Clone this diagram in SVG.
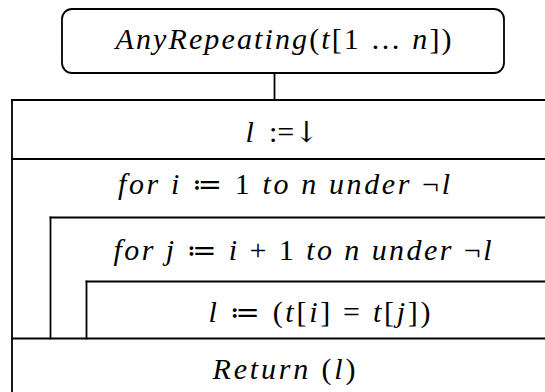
<svg xmlns="http://www.w3.org/2000/svg" width="545" height="392" viewBox="0 0 545 392">
<style>
.ln{stroke:#000;stroke-width:1.8;fill:none;stroke-linecap:square}
.t{font-family:"Liberation Serif","DejaVu Serif",serif;font-size:30px;fill:#000;text-anchor:middle}
.i{font-style:italic}
.u{font-style:normal}
.s{font-family:"DejaVu Serif",serif;font-style:normal;font-size:29px}
</style>
<rect width="545" height="392" fill="#fff"/>
<g id="title">
<rect x="62" y="9" width="442" height="64" rx="10" class="ln"/>
<text class="t" x="283.5" y="49" textLength="336" lengthAdjust="spacing"><tspan class="i">AnyRepeating</tspan><tspan class="u">(</tspan><tspan class="i">t</tspan><tspan class="u">[1 … </tspan><tspan class="i">n</tspan><tspan class="u">])</tspan></text>
</g>
<g id="connectors">
<line x1="274.5" y1="73" x2="274.5" y2="100" class="ln"/>
</g>
<g id="frame">
<line x1="12" y1="100" x2="545" y2="100" class="ln"/>
<line x1="12" y1="100" x2="12" y2="392" class="ln"/>
</g>
<g id="assign">
<text class="t" x="282" y="142"><tspan class="i">l</tspan><tspan class="u">&#160;&#160;:=</tspan><tspan class="s">↓</tspan></text>
<line x1="12" y1="159" x2="545" y2="159" class="ln"/>
</g>
<g id="loop-i">
<text class="t" x="284" y="194" textLength="332" lengthAdjust="spacing"><tspan class="i">for i</tspan><tspan class="u"> </tspan><tspan class="s">≔</tspan><tspan class="u"> 1 </tspan><tspan class="i">to n under</tspan><tspan class="u"> ¬</tspan><tspan class="i">l</tspan></text>
<line x1="50.5" y1="217.5" x2="545" y2="217.5" class="ln"/>
<line x1="50.5" y1="217.5" x2="50.5" y2="338.5" class="ln"/>
</g>
<g id="loop-j">
<text class="t" x="302.5" y="260" textLength="378" lengthAdjust="spacing"><tspan class="i">for j</tspan><tspan class="u"> </tspan><tspan class="s">≔</tspan><tspan class="u"> </tspan><tspan class="i">i</tspan><tspan class="u"> + 1 </tspan><tspan class="i">to n under</tspan><tspan class="u"> ¬</tspan><tspan class="i">l</tspan></text>
<line x1="86.5" y1="281.5" x2="545" y2="281.5" class="ln"/>
<line x1="86.5" y1="281.5" x2="86.5" y2="338.5" class="ln"/>
</g>
<g id="compare">
<text class="t" x="319.5" y="321.5" textLength="222" lengthAdjust="spacing"><tspan class="i">l</tspan><tspan class="u"> </tspan><tspan class="s">≔</tspan><tspan class="u"> (</tspan><tspan class="i">t</tspan><tspan class="u">[</tspan><tspan class="i">i</tspan><tspan class="u">] = </tspan><tspan class="i">t</tspan><tspan class="u">[</tspan><tspan class="i">j</tspan><tspan class="u">])</tspan></text>
<line x1="12" y1="338.5" x2="545" y2="338.5" class="ln"/>
</g>
<g id="return">
<text class="t" x="284" y="378.5" textLength="143" lengthAdjust="spacing"><tspan class="i">Return</tspan><tspan class="u"> (</tspan><tspan class="i">l</tspan><tspan class="u">)</tspan></text>
</g>
</svg>
